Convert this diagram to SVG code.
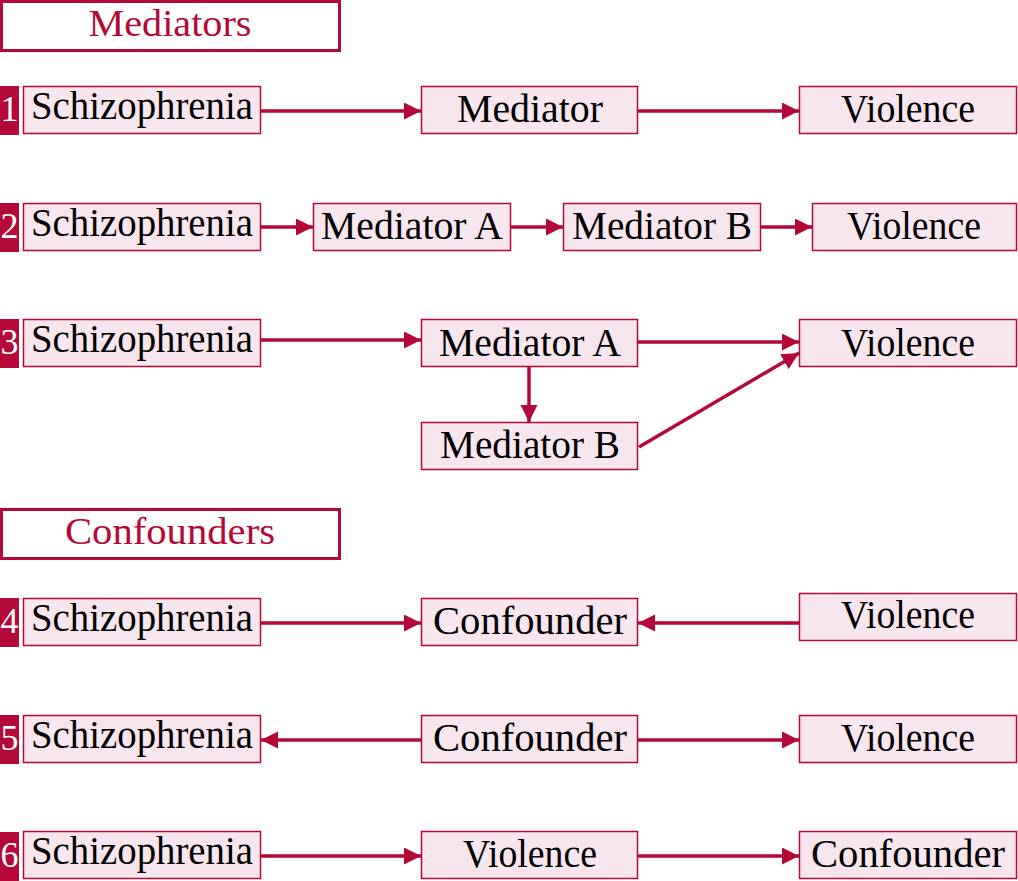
<svg xmlns="http://www.w3.org/2000/svg" width="1018" height="881" viewBox="0 0 1018 881">
<style>
.hdr{fill:#fff;stroke:#b30838;stroke-width:3}
.hdrt{font-family:'Liberation Serif','DejaVu Serif',serif;font-size:38px;fill:#b30838;text-anchor:middle}
.node{fill:#f8e6ee;stroke:#b30838;stroke-width:1.5}
.t{font-family:'Liberation Serif','DejaVu Serif',serif;font-size:39px;fill:#000;text-anchor:middle}
.num{fill:#b30838}
.numt{font-family:'Liberation Serif','DejaVu Serif',serif;font-size:36px;fill:#fff;text-anchor:middle}
.c{stroke:#b30838;stroke-width:3.5;fill:none;marker-end:url(#ah)}
</style>
<defs>
<marker id="ah" markerUnits="userSpaceOnUse" markerWidth="19" markerHeight="18" refX="17" refY="8.5" orient="auto">
<path d="M0,0 L17,8.5 L0,17 z" fill="#b30838"/>
</marker>
</defs>
<rect width="1018" height="881" fill="#fff"/>
<g id="hdr-mediators"><rect class="hdr" x="1.5" y="1.5" width="338" height="49"/><text class="hdrt" x="170" y="36" textLength="163" lengthAdjust="spacingAndGlyphs">Mediators</text></g>
<g id="hdr-confounders"><rect class="hdr" x="1.5" y="509.5" width="338" height="49"/><text class="hdrt" x="170" y="544" textLength="210" lengthAdjust="spacingAndGlyphs">Confounders</text></g>
<g id="numbers">
<g id="n1"><rect class="num" x="0" y="86" width="19" height="49"/><text class="numt" x="9.5" y="121">1</text></g>
<g id="n2"><rect class="num" x="0" y="203" width="19" height="49"/><text class="numt" x="9.5" y="238">2</text></g>
<g id="n3"><rect class="num" x="0" y="319" width="19" height="49"/><text class="numt" x="9.5" y="354">3</text></g>
<g id="n4"><rect class="num" x="0" y="598" width="19" height="49"/><text class="numt" x="9.5" y="633">4</text></g>
<g id="n5"><rect class="num" x="0" y="715" width="19" height="49"/><text class="numt" x="9.5" y="750">5</text></g>
<g id="n6"><rect class="num" x="0" y="832" width="19" height="49"/><text class="numt" x="9.5" y="867">6</text></g>
</g>
<g id="connectors">
<line class="c" x1="261" y1="111" x2="421" y2="111"/>
<line class="c" x1="638" y1="111" x2="799" y2="111"/>
<line class="c" x1="261" y1="227" x2="313" y2="227"/>
<line class="c" x1="511" y1="227" x2="563" y2="227"/>
<line class="c" x1="761" y1="227" x2="812" y2="227"/>
<line class="c" x1="261" y1="340" x2="421" y2="340"/>
<line class="c" x1="638" y1="342" x2="799" y2="342"/>
<line class="c" x1="529" y1="367" x2="529" y2="422"/>
<line class="c" x1="639" y1="447" x2="799" y2="353"/>
<line class="c" x1="261" y1="623" x2="421" y2="623"/>
<line class="c" x1="799" y1="623" x2="638" y2="623"/>
<line class="c" x1="421" y1="740" x2="261" y2="740"/>
<line class="c" x1="638" y1="740" x2="799" y2="740"/>
<line class="c" x1="261" y1="856" x2="421" y2="856"/>
<line class="c" x1="638" y1="856" x2="799" y2="856"/>
</g>
<g id="r1-schizo"><rect class="node" x="23.5" y="86.5" width="237" height="47"/><text class="t" x="142" y="119" textLength="222" lengthAdjust="spacingAndGlyphs">Schizophrenia</text></g>
<g id="r1-mediator"><rect class="node" x="421.5" y="86.5" width="216" height="47"/><text class="t" x="530" y="122" textLength="146" lengthAdjust="spacingAndGlyphs">Mediator</text></g>
<g id="r1-violence"><rect class="node" x="799.5" y="86.5" width="217" height="47"/><text class="t" x="908" y="122" textLength="134" lengthAdjust="spacingAndGlyphs">Violence</text></g>
<g id="r2-schizo"><rect class="node" x="23.5" y="203.5" width="237" height="47"/><text class="t" x="142" y="236" textLength="222" lengthAdjust="spacingAndGlyphs">Schizophrenia</text></g>
<g id="r2-medA"><rect class="node" x="313.5" y="203.5" width="197" height="47"/><text class="t" x="412" y="239" textLength="182" lengthAdjust="spacingAndGlyphs">Mediator A</text></g>
<g id="r2-medB"><rect class="node" x="563.5" y="203.5" width="197" height="47"/><text class="t" x="662" y="239" textLength="180" lengthAdjust="spacingAndGlyphs">Mediator B</text></g>
<g id="r2-violence"><rect class="node" x="812.5" y="203.5" width="204" height="47"/><text class="t" x="914" y="239" textLength="134" lengthAdjust="spacingAndGlyphs">Violence</text></g>
<g id="r3-schizo"><rect class="node" x="23.5" y="319.5" width="237" height="47"/><text class="t" x="142" y="352" textLength="222" lengthAdjust="spacingAndGlyphs">Schizophrenia</text></g>
<g id="r3-medA"><rect class="node" x="421.5" y="319.5" width="216" height="47"/><text class="t" x="530" y="356" textLength="182" lengthAdjust="spacingAndGlyphs">Mediator A</text></g>
<g id="r3-violence"><rect class="node" x="799.5" y="319.5" width="217" height="47"/><text class="t" x="908" y="356" textLength="134" lengthAdjust="spacingAndGlyphs">Violence</text></g>
<g id="r3-medB"><rect class="node" x="421.5" y="422.5" width="216" height="47"/><text class="t" x="530" y="458" textLength="180" lengthAdjust="spacingAndGlyphs">Mediator B</text></g>
<g id="r4-schizo"><rect class="node" x="23.5" y="598.5" width="237" height="47"/><text class="t" x="142" y="631" textLength="222" lengthAdjust="spacingAndGlyphs">Schizophrenia</text></g>
<g id="r4-conf"><rect class="node" x="421.5" y="598.5" width="216" height="47"/><text class="t" x="530" y="634" textLength="194" lengthAdjust="spacingAndGlyphs">Confounder</text></g>
<g id="r4-violence"><rect class="node" x="799.5" y="593.5" width="217" height="47"/><text class="t" x="908" y="628" textLength="134" lengthAdjust="spacingAndGlyphs">Violence</text></g>
<g id="r5-schizo"><rect class="node" x="23.5" y="715.5" width="237" height="47"/><text class="t" x="142" y="748" textLength="222" lengthAdjust="spacingAndGlyphs">Schizophrenia</text></g>
<g id="r5-conf"><rect class="node" x="421.5" y="715.5" width="216" height="47"/><text class="t" x="530" y="751" textLength="194" lengthAdjust="spacingAndGlyphs">Confounder</text></g>
<g id="r5-violence"><rect class="node" x="799.5" y="715.5" width="217" height="47"/><text class="t" x="908" y="751" textLength="134" lengthAdjust="spacingAndGlyphs">Violence</text></g>
<g id="r6-schizo"><rect class="node" x="23.5" y="831.5" width="237" height="47"/><text class="t" x="142" y="864" textLength="222" lengthAdjust="spacingAndGlyphs">Schizophrenia</text></g>
<g id="r6-violence"><rect class="node" x="421.5" y="831.5" width="216" height="47"/><text class="t" x="530" y="867" textLength="134" lengthAdjust="spacingAndGlyphs">Violence</text></g>
<g id="r6-conf"><rect class="node" x="799.5" y="831.5" width="217" height="47"/><text class="t" x="908" y="867" textLength="194" lengthAdjust="spacingAndGlyphs">Confounder</text></g>
</svg>
